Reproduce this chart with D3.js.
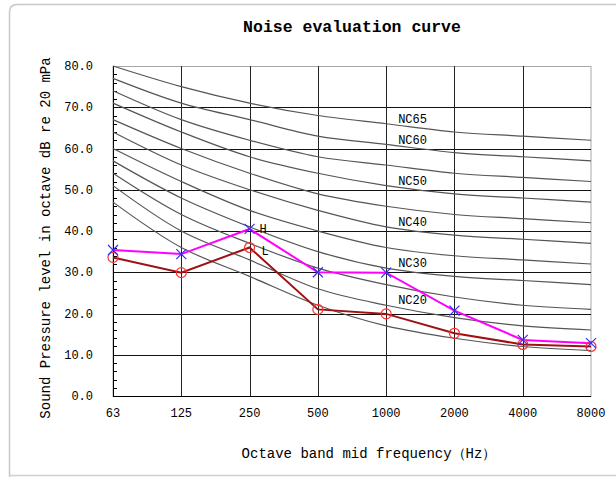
<!DOCTYPE html>
<html><head><meta charset="utf-8">
<script src="https://cdn.jsdelivr.net/npm/d3@7"></script>
<style>
html,body{margin:0;padding:0;background:#fff;}
svg{display:block;}
text{font-family:"Liberation Mono","DejaVu Sans Mono",monospace;fill:#000;}
</style></head>
<body>
<svg id="c" width="616" height="477"></svg>
<script>
const frequencies = ["63","125","250","500","1000","2000","4000","8000"];
const yTicks = [0,10,20,30,40,50,60,70,80];
const ncNames = ["NC15","NC20","NC25","NC30","NC35","NC40","NC45","NC50","NC55","NC60","NC65"];
const ncValues = [
  [47,36,29,22,17,14,12,11],
  [51,40,33,26,22,19,17,16],
  [54,44,37,31,27,24,22,21],
  [57,48,41,35,31,29,28,27],
  [60,52,45,40,36,34,33,32],
  [64,56,50,45,41,39,38,37],
  [67,60,54,49,46,44,43,42],
  [71,64,58,54,51,49,48,47],
  [74,67,62,58,56,54,53,52],
  [77,71,67,63,61,59,58,57],
  [80,75,71,68,66,64,63,62]
];
const labeledNC = ["NC65","NC60","NC50","NC40","NC30","NC20"];
const seriesH = [35.4,34.4,40.5,30.0,29.9,20.7,13.6,12.8];
const seriesL = [33.6,29.9,36.0,21.0,19.9,15.2,12.5,12.0];
const title = "Noise evaluation curve";
const xTitle = "Octave band mid frequency\uFF08Hz\uFF09";
const yTitle = "Sound Pressure level in octave dB re 20 mPa";

const svg = d3.select("#c");
const L = 113, R = 591, T = 66, B = 396;
const x = d3.scalePoint().domain(frequencies).range([L, R]);
const y = d3.scaleLinear().domain([0, 80]).range([B, T]);

// outer frame
svg.append("path")
  .attr("d", `M9.5,480 L9.5,12 Q9.5,4.5 17,4.5 L620,4.5`)
  .attr("fill","none").attr("stroke","#c8c8c8").attr("stroke-width",1.5);
svg.append("line").attr("x1",9).attr("x2",620).attr("y1",475.5).attr("y2",475.5)
  .attr("stroke","#d0d0d0").attr("stroke-width",1.5);

// title
svg.append("text").attr("x",(L+R)/2).attr("y",32).attr("text-anchor","middle")
  .attr("font-size","16.5px").attr("font-weight","bold").text(title);

// plot border (top/right grey)
svg.append("rect").attr("x",L).attr("y",T+0.5).attr("width",R-L).attr("height",B-T)
  .attr("fill","none").attr("stroke","#a8a8a8").attr("stroke-width",1);

// horizontal grid
svg.append("g").selectAll("line").data(yTicks.filter(d=>d>0&&d<80)).join("line")
  .attr("x1",L).attr("x2",R).attr("y1",d=>Math.round(y(d))+0.5).attr("y2",d=>Math.round(y(d))+0.5)
  .attr("stroke","#111").attr("stroke-width",1);
// vertical grid
svg.append("g").selectAll("line").data(frequencies.slice(1,-1)).join("line")
  .attr("x1",d=>Math.round(x(d))+0.5).attr("x2",d=>Math.round(x(d))+0.5).attr("y1",T).attr("y2",B)
  .attr("stroke","#222").attr("stroke-width",1);

// axes lines
svg.append("line").attr("x1",L+0.5).attr("x2",L+0.5).attr("y1",T).attr("y2",B+0.5).attr("stroke","#000");
svg.append("line").attr("x1",L).attr("x2",R).attr("y1",B+0.5).attr("y2",B+0.5).attr("stroke","#000");

// minor ticks on y (inside)
svg.append("g").selectAll("line").data(d3.range(2,80,2).filter(d=>d%10!==0)).join("line")
  .attr("x1",L).attr("x2",L+4).attr("y1",d=>Math.round(y(d))+0.5).attr("y2",d=>Math.round(y(d))+0.5)
  .attr("stroke","#000");

// y tick labels
svg.append("g").selectAll("text").data(yTicks).join("text")
  .attr("x",93).attr("y",d=>y(d)).attr("dy","0.35em").attr("text-anchor","end")
  .attr("font-size","12px").text(d=>d.toFixed(1));
// x tick labels
svg.append("g").selectAll("text").data(frequencies).join("text")
  .attr("x",d=>x(d)).attr("y",413).attr("dy","0.35em").attr("text-anchor","middle")
  .attr("font-size","12px").text(d=>d);

// axis titles
svg.append("text").attr("x",(L+R)/2+17).attr("y",458).attr("text-anchor","middle")
  .attr("font-size","14px").text(xTitle);
svg.append("text").attr("transform","translate(50,238) rotate(-90)").attr("text-anchor","middle")
  .attr("font-size","14px").text(yTitle);

// NC curves
const line = d3.line().x((d,i)=>x(frequencies[i])).y(d=>y(d)).curve(d3.curveCatmullRom.alpha(0.5));
svg.append("g").selectAll("path").data(ncValues).join("path")
  .attr("d",line).attr("fill","none").attr("stroke","#555").attr("stroke-width",1.2);

// NC labels
const iLab = frequencies.indexOf("1000");
svg.append("g").selectAll("text").data(labeledNC).join("text")
  .attr("x",x("1000")+12).attr("y",d=>y(ncValues[ncNames.indexOf(d)][iLab])-5)
  .attr("dy","0.35em").attr("font-size","12px").text(d=>d);

// measured series
const sline = d3.line().x((d,i)=>x(frequencies[i])).y(d=>y(d));
svg.append("path").attr("d",sline(seriesL)).attr("fill","none").attr("stroke","#a01010").attr("stroke-width",2);
svg.append("path").attr("d",sline(seriesH)).attr("fill","none").attr("stroke","#ff00ff").attr("stroke-width",2);
svg.append("g").selectAll("circle").data(seriesL).join("circle")
  .attr("cx",(d,i)=>x(frequencies[i])).attr("cy",d=>y(d)).attr("r",5)
  .attr("fill","none").attr("stroke","#ff3030").attr("stroke-width",1.2);
svg.append("g").selectAll("path").data(seriesH).join("path")
  .attr("transform",(d,i)=>`translate(${x(frequencies[i])},${y(d)})`)
  .attr("d","M-5,-5L5,5M-5,5L5,-5").attr("stroke","#3030ff").attr("stroke-width",1.2);

// H / L labels
svg.append("text").attr("x",x("250")+10).attr("y",y(seriesH[2])).attr("dy","0.35em")
  .attr("font-size","12px").attr("font-family","Liberation Serif").text("H");
svg.append("text").attr("x",x("250")+12).attr("y",y(seriesL[2])+3).attr("dy","0.35em")
  .attr("font-size","12px").attr("font-family","Liberation Serif").text("L");
</script>
</body></html>
